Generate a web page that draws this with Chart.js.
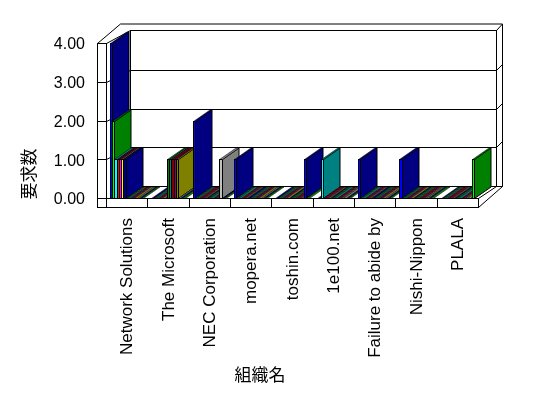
<!DOCTYPE html>
<html>
<head>
<meta charset="utf-8">
<script src="https://cdn.jsdelivr.net/npm/chart.js@4"></script>
<style>
  html, body { margin: 0; padding: 0; background: #fff; }
  canvas { display: block; }
</style>
</head>
<body>
<canvas id="chart" width="548" height="398"></canvas>
<script>
const categories = ["Network Solutions", "The Microsoft", "NEC Corporation", "mopera.net", "toshin.com", "1e100.net", "Failure to abide by", "Nishi-Nippon", "PLALA"];
const yTickLabels = ["0.00", "1.00", "2.00", "3.00", "4.00"];

// one array per series, one value per organisation
const s0 = [4, 0, 2, 1, 0, 0, 1, 1, 0];
const s1 = [2, 0, 0, 0, 0, 0, 0, 0, 0];
const s2 = [1, 0, 0, 0, 0, 1, 0, 0, 0];
const s3 = [1, 0, 0, 0, 0, 0, 0, 0, 0];
const s4 = [1, 0, 0, 0, 0, 0, 0, 0, 0];
const s5 = [1, 0, 0, 0, 0, 0, 0, 0, 0];
const s6 = [1, 0, 0, 0, 0, 0, 0, 0, 0];
const s7 = [0, 1, 0, 0, 0, 0, 0, 0, 0];
const s8 = [0, 1, 0, 0, 0, 0, 0, 0, 0];
const s9 = [0, 1, 0, 0, 0, 0, 0, 0, 0];
const s10 = [0, 1, 0, 0, 0, 0, 0, 0, 0];
const s11 = [0, 1, 0, 0, 0, 0, 0, 0, 0];
const s12 = [0, 0, 1, 0, 0, 0, 0, 0, 0];
const s13 = [0, 0, 0, 0, 1, 0, 0, 0, 0];
const s14 = [0, 0, 0, 0, 0, 0, 0, 0, 1];
const seriesValues = [s0, s1, s2, s3, s4, s5, s6, s7, s8, s9, s10, s11, s12, s13, s14];

const frontColors = ["#0000ff", "#00ff00", "#00ffff", "#ff0000", "#ff00ff", "#ffff00", "#000080", "#008000", "#008080", "#800000", "#800080", "#808000", "#c0c0c0", "#0000ff", "#00ff00"];
const sideColors = ["#000080", "#008000", "#008080", "#800000", "#800080", "#808000", "#000080", "#008000", "#008080", "#800000", "#800080", "#808000", "#808080", "#000080", "#008000"];

// depth of the fake 3d look
const barDx = 16.5, barDy = 11.5;
const wallDx = 24, wallDy = 12;
const outerDx = 23, outerDy = 19.5;

function poly(ctx, pts, fill) {
  ctx.beginPath();
  pts.forEach((p, i) => i ? ctx.lineTo(p[0], p[1]) : ctx.moveTo(p[0], p[1]));
  ctx.closePath();
  if (fill) { ctx.fillStyle = fill; ctx.fill(); }
  ctx.stroke();
}

function line(ctx, x1, y1, x2, y2) {
  ctx.beginPath();
  ctx.moveTo(x1, y1);
  ctx.lineTo(x2, y2);
  ctx.stroke();
}

const fake3d = {
  id: "fake3d",
  // the original is not antialiased, so put the bars on whole pixels
  afterDatasetsUpdate(chart) {
    chart.getSortedVisibleDatasetMetas().forEach(meta => {
      meta.data.forEach(el => {
        const l = Math.round(el.x - el.width / 2);
        const r = Math.round(el.x + el.width / 2);
        el.x = (l + r) / 2;
        el.width = r - l;
        el.y = Math.round(el.y);
        el.base = Math.round(el.base);
      });
    });
  },
  beforeDatasetsDraw(chart) {
    const ctx = chart.ctx;
    const a = chart.chartArea;
    const y = chart.scales.y;
    const L = a.left + 0.5, R = a.right + 0.5, B = a.bottom + 0.5, T = a.top + 0.5;
    const frontLeft = L - 9;

    ctx.save();
    ctx.strokeStyle = "#000";
    ctx.lineWidth = 1;

    // outer box behind everything
    const outerRight = R + outerDx + 1;
    line(ctx, frontLeft, T, frontLeft + outerDx, T - outerDy);
    line(ctx, frontLeft + outerDx, T - outerDy, outerRight, T - outerDy);
    line(ctx, outerRight, T - outerDy, outerRight, B - wallDy);
    line(ctx, R, a.bottom + 9.5, outerRight, B - wallDy);

    // back wall, left wall, floor
    const backL = L + wallDx, backR = R + 18, backT = T - wallDy - 1, backB = B - wallDy;
    ctx.strokeRect(backL, backT, backR - backL, backB - backT);
    line(ctx, L, T, backL, backT);
    line(ctx, R, B, backR, backB);
    line(ctx, backR, backB, outerRight, backB);
    line(ctx, backR, backT, outerRight, T - outerDy);

    // gridlines run round the walls, ticks across the front slab
    y.ticks.forEach(t => {
      const py = Math.round(y.getPixelForValue(t.value)) + 0.5;
      if (t.value > 0 && t.value < 4) {
        const gy = py - wallDy;
        line(ctx, frontLeft, py, L, py);
        line(ctx, L, py, backL, gy);
        line(ctx, backL, gy, backR, gy);
        line(ctx, backR, gy, outerRight, gy - 6);
      }
    });

    // front slab on the left and along the bottom
    ctx.strokeRect(frontLeft, T, L - frontLeft, a.bottom + 9 - a.top);
    ctx.strokeRect(frontLeft, B, R - frontLeft, 9);
    const x = chart.scales.x;
    categories.forEach((c, i) => {
      if (i < categories.length - 1) {
        const sep = Math.round((x.getPixelForTick(i) + x.getPixelForTick(i + 1)) / 2) + 0.5;
        line(ctx, sep, B, sep, B + 9);
      }
    });

    // sides and tops, category by category so nearer bars cover the ones before
    categories.forEach((c, i) => {
      seriesValues.forEach((vals, s) => {
        const el = chart.getDatasetMeta(s).data[i];
        const x1 = el.x - el.width / 2 + 0.5;
        const x2 = el.x + el.width / 2 + 0.5;
        const top = el.y + 0.5, base = el.base + 0.5;
        if (base > top) {
          ctx.strokeStyle = "#000";
          poly(ctx, [[x2, top], [x2 + barDx, top - barDy], [x2 + barDx, base - barDy], [x2, base]], sideColors[s]);
        }
        // tops are only a couple of pixels wide, a full black edge would swallow the colour
        ctx.strokeStyle = "rgba(0,0,0,0.5)";
        poly(ctx, [[x1, top], [x2, top], [x2 + barDx, top - barDy], [x1 + barDx, top - barDy]], sideColors[s]);
      });
    });
    // the front edge of the floor goes back on top of the flat bars
    ctx.strokeStyle = "#000";
    line(ctx, L, B, R, B);
    ctx.restore();
  },
  afterDraw(chart) {
    const ctx = chart.ctx;
    ctx.save();
    ctx.fillStyle = "#000";
    ctx.textAlign = "center";
    ctx.textBaseline = "middle";
    ctx.font = '17px "Noto Sans CJK JP"';
    ctx.fillText("組織名", 260, 375);
    ctx.translate(29, 174);
    ctx.rotate(-Math.PI / 2);
    ctx.fillText("要求数", 0, 0);
    ctx.restore();
  }
};

new Chart(document.getElementById("chart"), {
  type: "bar",
  data: {
    labels: categories,
    datasets: seriesValues.map((vals, s) => ({
      data: vals,
      backgroundColor: frontColors[s],
      borderColor: "#000",
      borderWidth: { left: 1, top: 1, right: 0, bottom: 0 },
      borderSkipped: false
    }))
  },
  options: {
    responsive: false,
    animation: false,
    devicePixelRatio: 1,
    categoryPercentage: 0.806,
    barPercentage: 1,
    layout: { padding: { top: 43, right: 70, left: 0, bottom: 0 } },
    plugins: { legend: { display: false }, title: { display: false }, tooltip: { enabled: false } },
    scales: {
      x: {
        grid: { display: false, drawTicks: false },
        border: { display: false },
        afterFit(scale) { scale.height = 200; },
        ticks: {
          autoSkip: false,
          minRotation: 90,
          maxRotation: 90,
          padding: 20,
          labelOffset: 1,
          color: "#000",
          font: { family: '"Liberation Sans"', size: 17 }
        }
      },
      y: {
        min: 0,
        max: 4,
        grid: { display: false, drawTicks: false },
        border: { display: false },
        afterFit(scale) { scale.width = 106; },
        ticks: {
          stepSize: 1,
          padding: 21,
          labelOffset: 2,
          color: "#000",
          font: { family: '"Liberation Sans"', size: 16 },
          callback: (v, i) => yTickLabels[i]
        }
      }
    }
  },
  plugins: [fake3d]
});
</script>
</body>
</html>
